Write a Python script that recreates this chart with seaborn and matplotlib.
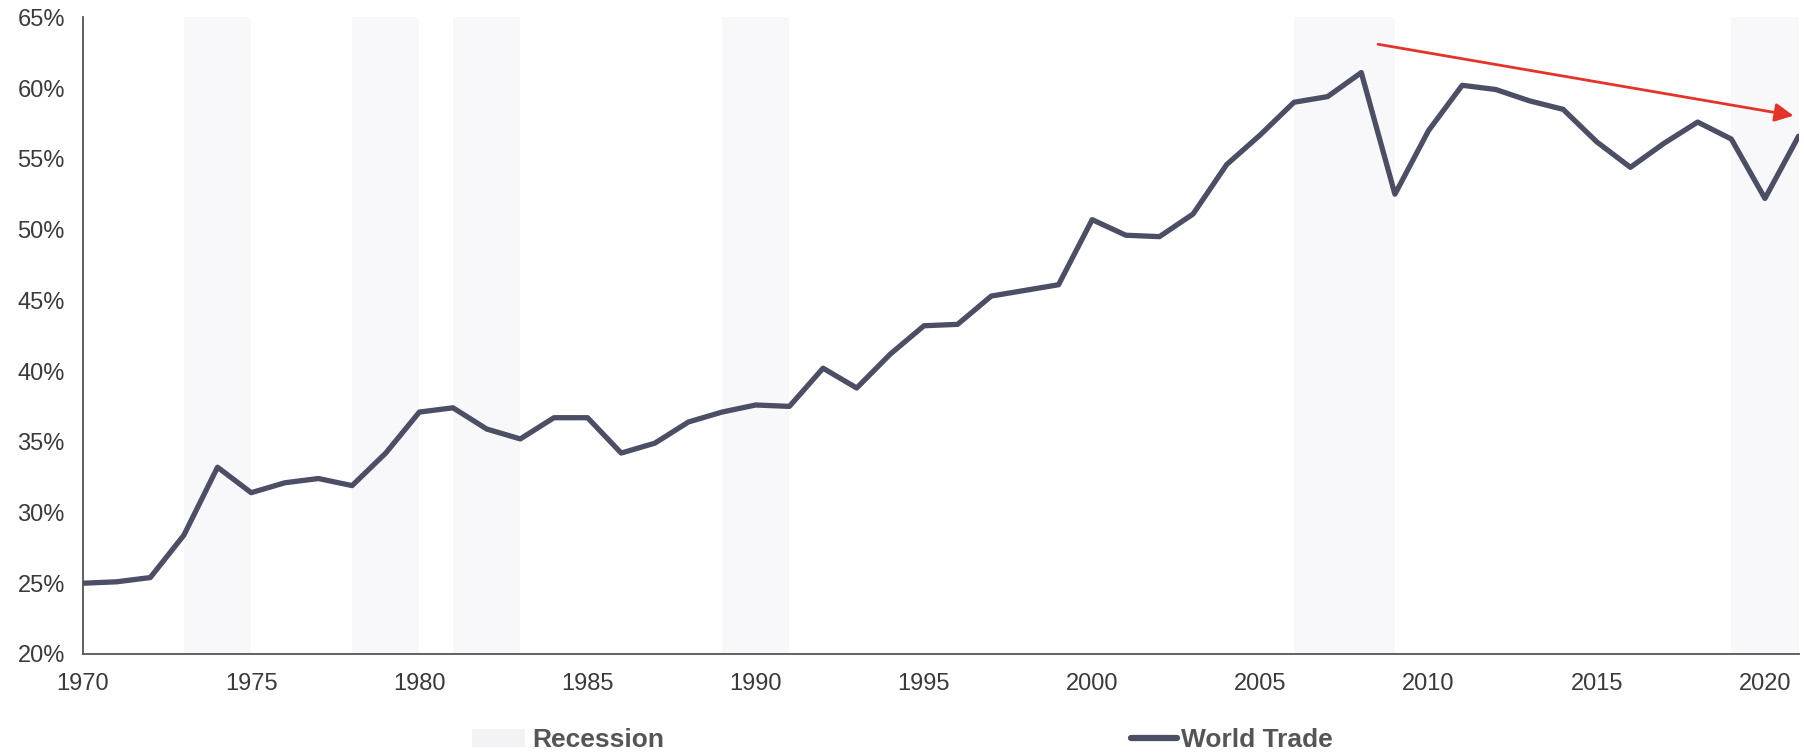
import numpy as np
import pandas as pd
import matplotlib
matplotlib.use("Agg")
import matplotlib.pyplot as plt
from matplotlib.patches import Patch
from matplotlib.lines import Line2D
from matplotlib.ticker import FuncFormatter
import seaborn as sns

# ---- data ----
years = list(range(1970, 2022))
world_trade = [25.0, 25.1, 25.4, 28.4, 33.2, 31.4, 32.1, 32.4, 31.9, 34.2,
               37.1, 37.4, 35.9, 35.2, 36.7, 36.7, 34.2, 34.9, 36.4, 37.1,
               37.6, 37.5, 40.2, 38.8, 41.2, 43.2, 43.3, 45.3, 45.7, 46.1,
               50.7, 49.6, 49.5, 51.1, 54.6, 56.7, 59.0, 59.4, 61.1, 52.5,
               57.0, 60.2, 59.9, 59.1, 58.5, 56.2, 54.4, 56.1, 57.6, 56.4,
               52.2, 56.6]
recession_start = [1973, 1978, 1981, 1989, 2006, 2019]
recession_end = [1975, 1980, 1983, 1991, 2009, 2021]
arrow_start = (2008.5, 63.1)
arrow_end = (2020.85, 58.05)
x_ticks = [1970, 1975, 1980, 1985, 1990, 1995, 2000, 2005, 2010, 2015, 2020]
y_ticks = [20, 25, 30, 35, 40, 45, 50, 55, 60, 65]

df = pd.DataFrame({"Year": years, "World Trade": world_trade})

sns.set_style("white")
plt.rcParams["font.family"] = ["Liberation Sans", "DejaVu Sans"]

LINE_COLOR = "#4b4e64"
BAND_COLOR = "#f8f8fa"
TEXT_COLOR = "#3a3a3a"

fig = plt.figure(figsize=(18.04, 7.56), dpi=100)
ax = fig.add_axes([0.046, 0.135, 0.951, 0.842])

for s, e in zip(recession_start, recession_end):
    ax.axvspan(s, e, color=BAND_COLOR, lw=0, zorder=0)

sns.lineplot(data=df, x="Year", y="World Trade", ax=ax, color=LINE_COLOR,
             lw=3.8, legend=False, zorder=3)

ax.annotate("", xy=arrow_end, xytext=arrow_start,
            arrowprops=dict(arrowstyle="-|>", color="#e5332a", lw=2.0,
                            mutation_scale=28, shrinkA=0, shrinkB=0),
            zorder=4)

ax.set_xlim(1970, 2021)
ax.set_ylim(20, 65)
ax.set_xticks(x_ticks)
ax.set_yticks(y_ticks)
ax.yaxis.set_major_formatter(FuncFormatter(lambda v, p: f"{int(v)}%"))
ax.set_xlabel("")
ax.set_ylabel("")

for side in ["top", "right"]:
    ax.spines[side].set_visible(False)
for side in ["left", "bottom"]:
    ax.spines[side].set_color("#555555")
    ax.spines[side].set_linewidth(1.3)

ax.tick_params(axis="both", which="major", direction="out", length=7,
               width=1.2, color="#555555", labelsize=17, labelcolor=TEXT_COLOR)
ax.tick_params(axis="y", pad=6)
ax.tick_params(axis="x", pad=7)

# legends
leg1 = fig.legend(handles=[Patch(facecolor="#f3f3f5", edgecolor="none")],
                  labels=["Recession"], loc="center left",
                  bbox_to_anchor=(472 / 1804, 1 - 740 / 756), frameon=False,
                  borderpad=0, borderaxespad=0, handlelength=2.0,
                  handletextpad=0.3, handleheight=0.7,
                  prop={"size": 19, "weight": "bold"})
for t in leg1.get_texts():
    t.set_color("#555555")
leg2 = fig.legend(handles=[Line2D([0], [0], color=LINE_COLOR, lw=4.5)],
                  labels=["World Trade"], loc="center left",
                  bbox_to_anchor=(1131 / 1804, 1 - 740 / 756), frameon=False,
                  borderpad=0, borderaxespad=0, handlelength=1.75,
                  handletextpad=0.15,
                  prop={"size": 19, "weight": "bold"})
for t in leg2.get_texts():
    t.set_color("#555555")

fig.savefig("out.png", dpi=100, facecolor="white")
